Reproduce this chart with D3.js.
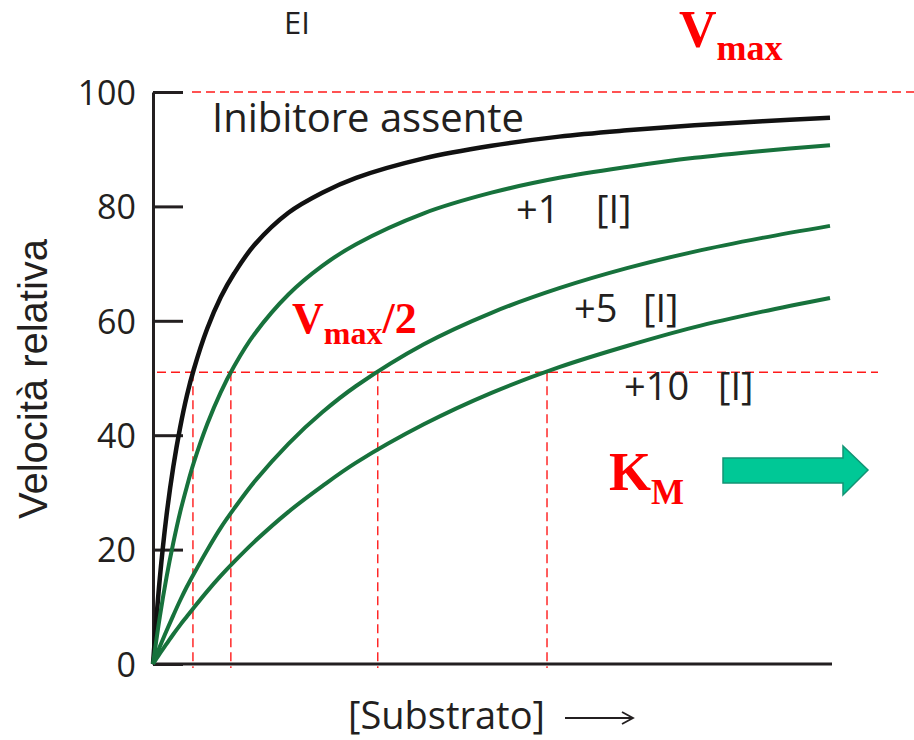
<!DOCTYPE html>
<html>
<head>
<meta charset="utf-8">
<script src="https://cdnjs.cloudflare.com/ajax/libs/d3/7.8.5/d3.min.js"></script>
<style>
  body { margin: 0; background: #fff; }
  svg { display: block; }
</style>
</head>
<body>
<script>
// Substrate concentration (arbitrary units) and relative velocity per curve
var substrato = [0, 1, 2, 3, 4, 5, 6, 8, 10, 12, 15, 20, 25, 30, 40, 50, 60, 70, 80, 90, 100];
var vAssente = [0, 14.9, 26, 34.5, 41.3, 46.9, 51.4, 58.6, 64.1, 68.3, 73.3, 78.9, 82.4, 85, 88.4, 90.6, 92.2, 93.3, 94.2, 94.9, 95.5];
var vInib1 = [0, 8.2, 15.2, 21.2, 26.5, 31, 35.1, 41.9, 47.5, 52.1, 57.7, 64.6, 69.6, 73.4, 78.8, 82.4, 85, 86.9, 88.5, 89.7, 90.7];
var vInib5 = [0, 3, 5.8, 8.5, 11.1, 13.5, 15.7, 19.9, 23.8, 27.2, 31.9, 38.5, 44, 48.6, 55.9, 61.4, 65.7, 69.2, 72.1, 74.5, 76.6];
var vInib10 = [0, 1.8, 3.5, 5.2, 6.8, 8.3, 9.8, 12.7, 15.4, 17.9, 21.4, 26.6, 31.1, 35.2, 41.9, 47.4, 51.9, 55.6, 58.9, 61.6, 64];

// reference levels
var vmax = 100, vmezzi = 51;
var kmValori = [5.9, 11.5, 33.2, 58.2];
var yTicks = [0, 20, 40, 60, 80, 100];

var width = 914, height = 740;

var x = d3.scaleLinear().domain([0, 100]).range([153, 830]),
    y = d3.scaleLinear().domain([0, 100]).range([664, 92]);

var svg = d3.select("body").append("svg")
    .attr("width", width)
    .attr("height", height);

var ink = "#231f20", red = "#ff1a1a", green = "#17723c";
var sans = "'Open Sans', sans-serif", serif = "'Liberation Serif', 'Times New Roman', serif";

// y axis with inward ticks
var yAxis = d3.axisLeft(y).tickValues(yTicks).tickSizeInner(-30).tickSizeOuter(0).tickPadding(17);
var gy = svg.append("g").attr("transform", "translate(" + x(0) + ",0)").call(yAxis);
gy.selectAll("path, line").attr("stroke", ink).attr("stroke-width", 3);
gy.selectAll("text").attr("font-family", sans).attr("font-size", 34).attr("fill", ink).attr("dy", "0.36em");

// x axis, no ticks
var xAxis = d3.axisBottom(x).tickValues([]).tickSizeOuter(0);
var gx = svg.append("g").attr("transform", "translate(0," + y(0) + ")").call(xAxis);
gx.select("path").attr("stroke", ink).attr("stroke-width", 3).attr("d", "M" + x(0) + ",0H" + (x(100) + 2));

// red dashed guides
svg.append("line")
    .attr("x1", 192).attr("x2", width)
    .attr("y1", y(vmax)).attr("y2", y(vmax))
    .attr("stroke", red).attr("stroke-width", 1.4).attr("stroke-dasharray", "9,5");

svg.append("line")
    .attr("x1", 157).attr("x2", 878)
    .attr("y1", y(vmezzi)).attr("y2", y(vmezzi))
    .attr("stroke", red).attr("stroke-width", 1.4).attr("stroke-dasharray", "9,5");

svg.selectAll(".km")
    .data(kmValori)
  .enter().append("line")
    .attr("class", "km")
    .attr("x1", function(d) { return x(d); })
    .attr("x2", function(d) { return x(d); })
    .attr("y1", y(vmezzi))
    .attr("y2", y(0) + 4)
    .attr("stroke", red).attr("stroke-width", 1.4).attr("stroke-dasharray", "9,5");

// curves
var line = d3.line()
    .x(function(d) { return x(d[0]); })
    .y(function(d) { return y(d[1]); })
    .curve(d3.curveCatmullRom.alpha(0.5));

var serie = [
  {v: vAssente, colore: "#111", w: 4.5},
  {v: vInib1, colore: green, w: 4},
  {v: vInib5, colore: green, w: 4},
  {v: vInib10, colore: green, w: 4}
];

serie.forEach(function(s) {
  svg.append("path")
      .datum(d3.zip(substrato, s.v))
      .attr("fill", "none")
      .attr("stroke", s.colore)
      .attr("stroke-width", s.w)
      .attr("d", line);
});

// labels
function testo(tx, ty, t, size, family) {
  return svg.append("text")
      .attr("x", tx).attr("y", ty)
      .attr("font-family", family || sans)
      .attr("font-size", size)
      .attr("fill", ink)
      .text(t);
}

testo(284, 34, "EI", 31);
testo(212, 132, "Inibitore assente", 40);
testo(516, 223, "+1", 38);
testo(596, 223, "[I]", 38);
testo(574, 322, "+5", 38);
testo(643, 322, "[I]", 38);
testo(624, 400, "+10", 38);
testo(718, 400, "[I]", 38);
testo(348, 729, "[Substrato]", 38);

// y axis title
svg.append("text")
    .attr("transform", "translate(47,379) rotate(-90)")
    .attr("text-anchor", "middle")
    .attr("font-family", "'Liberation Sans', Arial, sans-serif")
    .attr("font-size", 40)
    .attr("fill", ink)
    .text("Velocità relativa");

// arrow after [Substrato]
svg.append("path")
    .attr("d", "M565,718H633M622,712L633,718L622,724")
    .attr("fill", "none")
    .attr("stroke", ink)
    .attr("stroke-width", 1.8);

// red annotations (V max, V max / 2, K M)
function rosso(tx, ty, main, sub, size, subSize, after) {
  var t = svg.append("text")
      .attr("x", tx).attr("y", ty)
      .attr("font-family", serif)
      .attr("font-weight", "bold")
      .attr("fill", "#ff0000")
      .attr("font-size", size);
  t.append("tspan").text(main);
  t.append("tspan").attr("font-size", subSize).attr("dy", size * 0.25).text(sub);
  if (after) t.append("tspan").attr("dy", -size * 0.25).text(after);
}

rosso(679, 47, "V", "max", 52, 36);
rosso(292, 333, "V", "max", 44, 32, "/2");
rosso(609, 490, "K", "M", 54, 35);

// teal arrow next to K M
svg.append("path")
    .attr("d", "M723,458H843V446L868,470L843,495V483H723Z")
    .attr("fill", "#00c896")
    .attr("stroke", "#129474")
    .attr("stroke-width", 1.5);
</script>
</body>
</html>
